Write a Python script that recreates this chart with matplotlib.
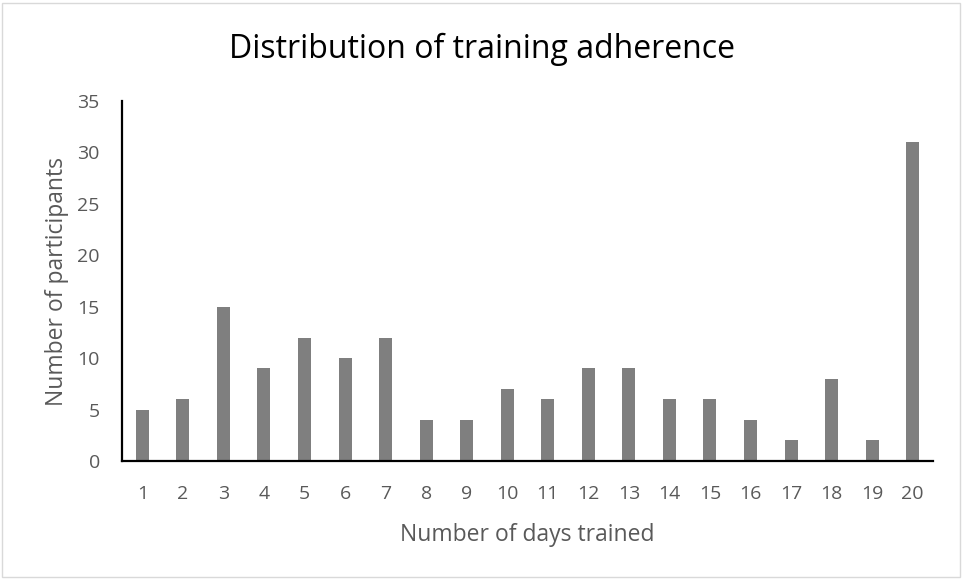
import matplotlib.pyplot as plt
from matplotlib.patches import Rectangle

days = list(range(1, 21))
participants = [5, 6, 15, 9, 12, 10, 12, 4, 4, 7, 6, 9, 9, 6, 6, 4, 2, 8, 2, 31]
y_ticks = [0, 5, 10, 15, 20, 25, 30, 35]

plt.rcParams['font.family'] = ['Open Sans', 'DejaVu Sans']

fig = plt.figure(figsize=(9.63, 5.79), dpi=100)
ax = fig.add_axes([122 / 963, 1 - 461 / 579, 811 / 963, 360 / 579])

ax.bar(days, participants, width=0.32, color='#7f7f7f')
ax.set_xlim(0.5, 20.5)
ax.set_ylim(0, 35)
ax.set_xticks(days)
ax.set_yticks(y_ticks)
ax.tick_params(length=0, labelsize=14, colors='#595959')
ax.tick_params(axis='x', pad=17)
ax.tick_params(axis='y', pad=16)

for side in ['top', 'right']:
    ax.spines[side].set_visible(False)
for side in ['left', 'bottom']:
    ax.spines[side].set_linewidth(1.6)
    ax.spines[side].set_color('black')

ax.set_xlabel('Number of days trained', fontsize=16.5, color='#595959', labelpad=15)
ax.set_ylabel('Number of participants', fontsize=16.5, color='#595959', labelpad=6)
fig.text(0.5, 1 - 49 / 579, 'Distribution of training adherence', fontsize=23,
         color='black', ha='center', va='center')

# light frame around the chart area
fig.patches.append(Rectangle((2 / 963, 2 / 579), 958 / 963, 574 / 579, transform=fig.transFigure,
                             fill=False, edgecolor='#d9d9d9', linewidth=1))

fig.savefig('out.png', dpi=100)
